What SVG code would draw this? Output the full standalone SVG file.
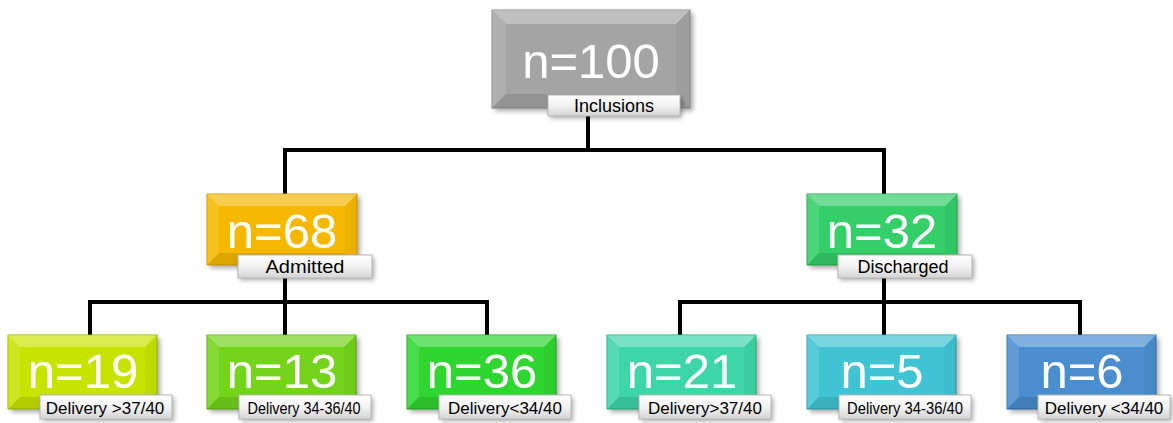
<svg xmlns="http://www.w3.org/2000/svg" width="1173" height="423" viewBox="0 0 1173 423">
<defs>
<filter id="sh" x="-10%" y="-10%" width="130%" height="140%"><feGaussianBlur stdDeviation="2.5"/></filter>
<linearGradient id="lab" x1="0" y1="0" x2="0" y2="1"><stop offset="0" stop-color="#ffffff"/><stop offset="0.5" stop-color="#f2f2f2"/><stop offset="1" stop-color="#d4d4d4"/></linearGradient>
<style>
.sh{fill:#000;opacity:.35;filter:url(#sh)}
.bt{fill:#fff;opacity:.3}
.bl{fill:#fff;opacity:.12}
.br{fill:#000;opacity:.04}
.bb{fill:#000;opacity:.1}
.num{font-family:"Liberation Sans",Arial,sans-serif;font-size:49px;fill:#fff;text-anchor:middle}
.lb{fill:url(#lab);stroke:#b8b8b8;stroke-width:1}
.lt{font-family:"Liberation Sans",Arial,sans-serif;font-size:18px;fill:#000;text-anchor:middle}
.ld{font-family:"Liberation Sans",Arial,sans-serif;font-size:17px;fill:#000;text-anchor:middle}
.ln{fill:none;stroke:#000;stroke-width:4}
</style>
</defs>
<rect width="1173" height="423" fill="#fff"/>
<g id="connectors">
<path class="ln" d="M588 115V150M285 150H884M285 148V196M884 148V196"/>
<path class="ln" d="M285 278V302M90 302H487M90 300V336M285 300V336M487 300V336"/>
<path class="ln" d="M884 278V302M680 302H1080M680 300V336M884 300V336M1080 300V336"/>
</g>
<g id="n100">
<rect class="sh" x="495" y="13" width="198" height="98"/>
<rect x="492" y="10" width="198" height="98" fill="#a4a4a4" stroke="#8c8c8c"/>
<polygon class="bt" points="492,10 690,10 676,24 506,24"/>
<polygon class="bl" points="492,10 506,24 506,94 492,108"/>
<polygon class="br" points="690,10 676,24 676,94 690,108"/>
<polygon class="bb" points="492,108 506,94 676,94 690,108"/>
<text class="num" x="591" y="78">n=100</text>
<rect class="sh" x="550" y="97" width="132" height="21"/>
<rect class="lb" x="548" y="95" width="132" height="21"/>
<text class="lt" x="614" y="112">Inclusions</text>
</g>
<g id="n68">
<rect class="sh" x="210" y="197" width="150" height="71"/>
<rect x="207" y="194" width="150" height="71" fill="#f5b800" stroke="#d49a00"/>
<polygon class="bt" points="207,194 357,194 345,206 219,206"/>
<polygon class="bl" points="207,194 219,206 219,253 207,265"/>
<polygon class="br" points="357,194 345,206 345,253 357,265"/>
<polygon class="bb" points="207,265 219,253 345,253 357,265"/>
<text class="num" x="282" y="248">n=68</text>
<rect class="sh" x="240" y="257" width="134" height="23"/>
<rect class="lb" x="238" y="255" width="134" height="23"/>
<text class="lt" x="305" y="273" textLength="79" lengthAdjust="spacingAndGlyphs">Admitted</text>
</g>
<g id="n32">
<rect class="sh" x="810" y="197" width="150" height="71"/>
<rect x="807" y="194" width="150" height="71" fill="#34cf68" stroke="#22a850"/>
<polygon class="bt" points="807,194 957,194 945,206 819,206"/>
<polygon class="bl" points="807,194 819,206 819,253 807,265"/>
<polygon class="br" points="957,194 945,206 945,253 957,265"/>
<polygon class="bb" points="807,265 819,253 945,253 957,265"/>
<text class="num" x="882" y="248">n=32</text>
<rect class="sh" x="840" y="257" width="134" height="23"/>
<rect class="lb" x="838" y="255" width="134" height="23"/>
<text class="lt" x="903" y="273">Discharged</text>
</g>
<g id="n19">
<rect class="sh" x="11" y="338" width="149" height="74"/>
<rect x="8" y="335" width="149" height="74" fill="#c6e400" stroke="#a0b800"/>
<polygon class="bt" points="8,335 157,335 145,347 20,347"/>
<polygon class="bl" points="8,335 20,347 20,397 8,409"/>
<polygon class="br" points="157,335 145,347 145,397 157,409"/>
<polygon class="bb" points="8,409 20,397 145,397 157,409"/>
<text class="num" x="83" y="388">n=19</text>
<rect class="sh" x="42" y="397" width="132" height="24"/>
<rect class="lb" x="40" y="395" width="132" height="24"/>
<text class="ld" x="105" y="414">Delivery &gt;37/40</text>
</g>
<g id="n13">
<rect class="sh" x="210" y="338" width="149" height="74"/>
<rect x="207" y="335" width="149" height="74" fill="#74d41c" stroke="#58aa10"/>
<polygon class="bt" points="207,335 356,335 344,347 219,347"/>
<polygon class="bl" points="207,335 219,347 219,397 207,409"/>
<polygon class="br" points="356,335 344,347 344,397 356,409"/>
<polygon class="bb" points="207,409 219,397 344,397 356,409"/>
<text class="num" x="282" y="388">n=13</text>
<rect class="sh" x="241" y="397" width="132" height="24"/>
<rect class="lb" x="239" y="395" width="132" height="24"/>
<text class="ld" x="304" y="414" textLength="113" lengthAdjust="spacingAndGlyphs">Delivery 34-36/40</text>
</g>
<g id="n36">
<rect class="sh" x="410" y="338" width="149" height="74"/>
<rect x="407" y="335" width="149" height="74" fill="#30d630" stroke="#20aa20"/>
<polygon class="bt" points="407,335 556,335 544,347 419,347"/>
<polygon class="bl" points="407,335 419,347 419,397 407,409"/>
<polygon class="br" points="556,335 544,347 544,397 556,409"/>
<polygon class="bb" points="407,409 419,397 544,397 556,409"/>
<text class="num" x="482" y="388">n=36</text>
<rect class="sh" x="441" y="397" width="132" height="24"/>
<rect class="lb" x="439" y="395" width="132" height="24"/>
<text class="ld" x="505" y="414">Delivery&lt;34/40</text>
</g>
<g id="n21">
<rect class="sh" x="610" y="338" width="149" height="74"/>
<rect x="607" y="335" width="149" height="74" fill="#3fd6a6" stroke="#28ae84"/>
<polygon class="bt" points="607,335 756,335 744,347 619,347"/>
<polygon class="bl" points="607,335 619,347 619,397 607,409"/>
<polygon class="br" points="756,335 744,347 744,397 756,409"/>
<polygon class="bb" points="607,409 619,397 744,397 756,409"/>
<text class="num" x="682" y="388">n=21</text>
<rect class="sh" x="641" y="397" width="132" height="24"/>
<rect class="lb" x="639" y="395" width="132" height="24"/>
<text class="ld" x="705" y="414">Delivery&gt;37/40</text>
</g>
<g id="n5">
<rect class="sh" x="810" y="338" width="149" height="74"/>
<rect x="807" y="335" width="149" height="74" fill="#40c4d4" stroke="#2aa0ae"/>
<polygon class="bt" points="807,335 956,335 944,347 819,347"/>
<polygon class="bl" points="807,335 819,347 819,397 807,409"/>
<polygon class="br" points="956,335 944,347 944,397 956,409"/>
<polygon class="bb" points="807,409 819,397 944,397 956,409"/>
<text class="num" x="882" y="388">n=5</text>
<rect class="sh" x="841" y="397" width="132" height="24"/>
<rect class="lb" x="839" y="395" width="132" height="24"/>
<text class="ld" x="905" y="414" textLength="116" lengthAdjust="spacingAndGlyphs">Delivery 34-36/40</text>
</g>
<g id="n6">
<rect class="sh" x="1010" y="338" width="149" height="74"/>
<rect x="1007" y="335" width="149" height="74" fill="#4a8ed0" stroke="#346eaa"/>
<polygon class="bt" points="1007,335 1156,335 1144,347 1019,347"/>
<polygon class="bl" points="1007,335 1019,347 1019,397 1007,409"/>
<polygon class="br" points="1156,335 1144,347 1144,397 1156,409"/>
<polygon class="bb" points="1007,409 1019,397 1144,397 1156,409"/>
<text class="num" x="1082" y="388">n=6</text>
<rect class="sh" x="1040" y="397" width="132" height="24"/>
<rect class="lb" x="1038" y="395" width="132" height="24"/>
<text class="ld" x="1104" y="414">Delivery &lt;34/40</text>
</g>
</svg>
